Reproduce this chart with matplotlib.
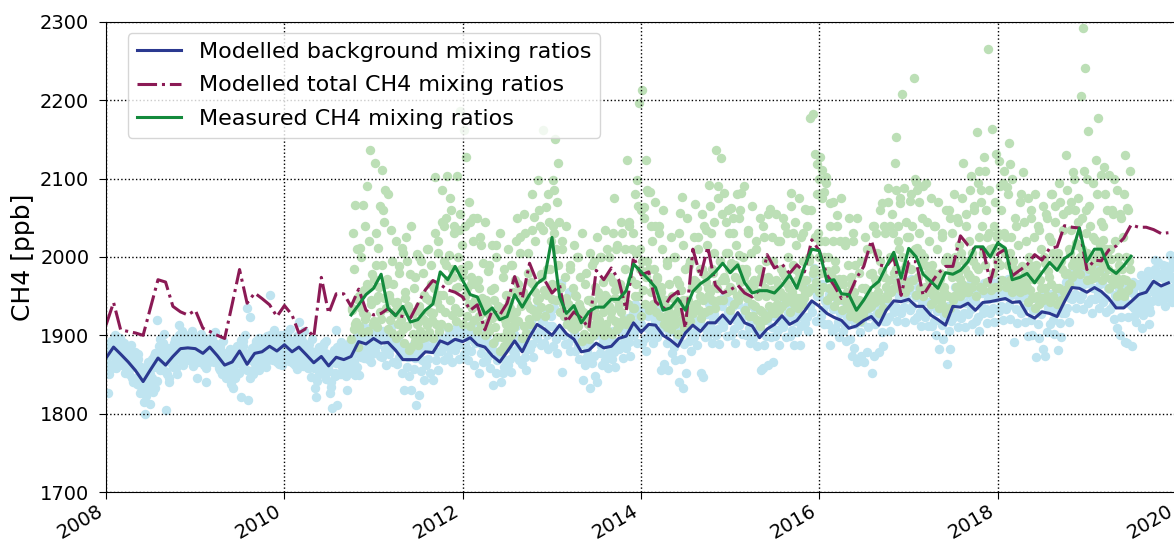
import matplotlib
matplotlib.use("Agg")
import matplotlib.pyplot as plt
import matplotlib.dates as mdates
import numpy as np
import pandas as pd

# monthly model output, Jan 2008 - Dec 2019 (ppb)
background = [
    1871, 1885, 1876, 1866, 1855, 1841, 1856, 1871, 1862, 1873, 1883, 1884,
    1883, 1877, 1885, 1874, 1862, 1866, 1880, 1863, 1877, 1879, 1886, 1880,
    1888, 1879, 1885, 1875, 1865, 1873, 1861, 1872, 1869, 1873, 1892, 1889,
    1896, 1890, 1891, 1881, 1869, 1869, 1869, 1879, 1878, 1893, 1889, 1895,
    1892, 1897, 1888, 1885, 1874, 1866, 1879, 1893, 1879, 1898, 1914, 1908,
    1900, 1913, 1902, 1895, 1879, 1881, 1890, 1884, 1886, 1896, 1899, 1916,
    1904, 1914, 1913, 1900, 1894, 1886, 1903, 1913, 1905, 1916, 1916, 1926,
    1915, 1929, 1916, 1912, 1897, 1908, 1914, 1925, 1914, 1919, 1931, 1944,
    1937, 1928, 1923, 1919, 1909, 1912, 1919, 1924, 1913, 1932, 1944, 1943,
    1946, 1937, 1937, 1926, 1920, 1913, 1937, 1936, 1941, 1932, 1942, 1943,
    1945, 1947, 1942, 1943, 1927, 1922, 1930, 1928, 1924, 1943, 1961, 1960,
    1955, 1961, 1956, 1947, 1935, 1935, 1943, 1952, 1955, 1969, 1963, 1967,
]
total = [
    1913, 1942, 1907, 1905, 1903, 1900, 1935, 1971, 1968, 1937, 1930, 1926,
    1932, 1909, 1905, 1900, 1896, 1940, 1984, 1941, 1954, 1947, 1939, 1924,
    1938, 1926, 1903, 1909, 1898, 1974, 1928, 1953, 1953, 1937, 1959, 1932,
    1926, 1928, 1934, 1926, 1924, 1922, 1940, 1958, 1970, 1965, 1958, 1955,
    1949, 1932, 1939, 1907, 1932, 1926, 1941, 1975, 1947, 1992, 1968, 1971,
    1954, 1964, 1917, 1930, 1922, 1909, 1983, 1971, 1986, 1971, 1932, 2000,
    1977, 1981, 1943, 1934, 1949, 1956, 1909, 2010, 1975, 2013, 1964, 1954,
    1958, 1964, 1954, 1949, 1958, 2003, 1986, 1991, 1979, 1990, 1981, 2022,
    2008, 1977, 1964, 1947, 1951, 1973, 1988, 2021, 1990, 1988, 2000, 1951,
    1994, 1994, 1951, 1966, 1979, 1988, 1988, 2027, 2015, 2009, 2011, 1968,
    2004, 2010, 1976, 1983, 1990, 2003, 1996, 2011, 2013, 2040, 2038, 2037,
    1984, 1996, 1995, 2009, 2014, 2024, 2041, 2038, 2038, 2035, 2030, 2031,
]
# monthly mean of the station record, Oct 2010 - Jul 2019
measured = [
    1926, 1939, 1952,
    1960, 1978, 1935, 1925, 1937, 1917, 1920, 1932, 1940, 1981, 1971, 1988,
    1970, 1952, 1949, 1927, 1935, 1920, 1924, 1952, 1936, 1952, 1966, 1973,
    2025, 1949, 1928, 1938, 1916, 1930, 1936, 1936, 1946, 1946, 1957, 1991,
    1981, 1971, 1961, 1932, 1935, 1947, 1932, 1956, 1966, 1972, 1981, 1992,
    1980, 1990, 1967, 1954, 1957, 1957, 1954, 1964, 1977, 1960, 1988, 2010,
    2008, 1969, 1971, 1953, 1952, 1932, 1945, 1961, 1969, 1988, 2006, 1973,
    2011, 2000, 1978, 1969, 1960, 1980, 1978, 1983, 1994, 2013, 2013, 2000,
    2018, 2011, 1971, 1974, 1979, 1967, 1980, 1993, 1983, 1998, 2005, 2037,
    1994, 2010, 2010, 1986, 1979, 1989, 2001,
]

# background samples, one every 5 days from 1 Jan of each year
bg_2008 = [1880, 1862, 1826, 1875, 1890, 1858, 1893, 1871, 1884, 1898, 1868, 1879,
           1885, 1862, 1874, 1890, 1857, 1869, 1873, 1851, 1882, 1860, 1840, 1868,
           1862, 1838, 1870, 1848, 1827, 1858, 1848, 1815, 1800, 1852, 1828, 1860,
           1812, 1862, 1845, 1873, 1833, 1866, 1920, 1878, 1856, 1884, 1862, 1890,
           1870, 1805, 1851, 1877, 1845, 1866, 1882, 1860, 1890, 1868, 1851, 1879,
           1913, 1875, 1890, 1862, 1897, 1880, 1892, 1870, 1900, 1876, 1887, 1861, 1895]
bg_2009 = [1890, 1846, 1878, 1896, 1869, 1884, 1885, 1862, 1890, 1840, 1871, 1880,
           1893, 1875, 1898, 1866, 1881, 1889, 1880, 1858, 1887, 1867, 1850, 1876,
           1870, 1845, 1878, 1855, 1864, 1838, 1874, 1833, 1861, 1880, 1850, 1869,
           1886, 1821, 1872, 1893, 1866, 1878, 1935, 1817, 1870, 1923, 1855, 1868,
           1885, 1864, 1893, 1872, 1856, 1880, 1887, 1868, 1895, 1874, 1860, 1883,
           1894, 1951, 1878, 1900, 1869, 1888, 1888, 1866, 1897, 1875, 1884, 1862, 1892]
bg_2010 = [1896, 1874, 1902, 1880, 1867, 1891, 1888, 1865, 1893, 1871, 1857, 1884,
           1917, 1876, 1893, 1861, 1884, 1870, 1883, 1858, 1889, 1866, 1847, 1878,
           1872, 1833, 1821, 1880, 1851, 1862, 1881, 1855, 1890, 1864, 1844, 1876,
           1869, 1826, 1834, 1807, 1876, 1852, 1907, 1811, 1866, 1880, 1850, 1875,
           1876, 1852, 1884, 1830, 1862, 1871, 1881, 1858, 1890, 1866, 1849, 1877,
           1900, 1849, 1910, 1883, 1896, 1871, 1897, 1875, 1905, 1880, 1892, 1866, 1902]
bg_2011 = [1905, 1880, 1913, 1888, 1899, 1874, 1898, 1872, 1906, 1883, 1862, 1893,
           1900, 1876, 1910, 1885, 1866, 1894, 1890, 1863, 1898, 1872, 1884, 1852,
           1878, 1830, 1885, 1860, 1872, 1848, 1879, 1830, 1888, 1857, 1871, 1811,
           1877, 1824, 1885, 1855, 1868, 1843, 1888, 1862, 1897, 1870, 1852, 1882,
           1886, 1843, 1894, 1868, 1879, 1856, 1902, 1880, 1912, 1886, 1869, 1896,
           1898, 1874, 1907, 1882, 1866, 1892, 1904, 1881, 1913, 1888, 1870, 1898, 1909]
bg_2012 = [1900, 1876, 1910, 1885, 1868, 1895, 1905, 1880, 1915, 1862, 1890, 1898,
           1896, 1852, 1905, 1878, 1888, 1866, 1893, 1867, 1901, 1874, 1858, 1887,
           1882, 1837, 1891, 1852, 1868, 1876, 1874, 1840, 1882, 1852, 1860, 1869,
           1887, 1862, 1895, 1870, 1853, 1880, 1902, 1876, 1912, 1885, 1868, 1897,
           1888, 1864, 1897, 1872, 1856, 1882, 1907, 1882, 1918, 1889, 1872, 1900,
           1925, 1897, 1938, 1905, 1888, 1918, 1918, 1890, 1932, 1900, 1883, 1912, 1925]
bg_2013 = [1912, 1886, 1935, 1895, 1877, 1906, 1945, 1967, 1853, 1900, 1925, 1889,
           1914, 1890, 1955, 1880, 1897, 1908, 1905, 1880, 1915, 1888, 1870, 1898,
           1889, 1843, 1897, 1862, 1871, 1880, 1890, 1833, 1898, 1865, 1873, 1848,
           1900, 1840, 1909, 1878, 1886, 1862, 1893, 1868, 1902, 1876, 1858, 1887,
           1896, 1870, 1905, 1879, 1860, 1889, 1907, 1882, 1917, 1889, 1871, 1899,
           1910, 1884, 1922, 1892, 1874, 1903, 1928, 1900, 1940, 1908, 1890, 1920, 1933]
bg_2014 = [1915, 1890, 1926, 1897, 1880, 1909, 1925, 1900, 1938, 1907, 1890, 1918,
           1924, 1898, 1935, 1906, 1856, 1917, 1911, 1864, 1922, 1890, 1856, 1904,
           1905, 1878, 1916, 1885, 1868, 1898, 1897, 1841, 1908, 1870, 1833, 1889,
           1914, 1852, 1924, 1893, 1903, 1880, 1924, 1898, 1936, 1906, 1888, 1918,
           1916, 1852, 1927, 1847, 1898, 1908, 1927, 1901, 1940, 1909, 1890, 1920,
           1927, 1900, 1939, 1908, 1889, 1920, 1937, 1910, 1950, 1918, 1899, 1930, 1944]
bg_2015 = [1926, 1900, 1938, 1908, 1890, 1920, 1940, 1913, 1952, 1921, 1902, 1933,
           1927, 1901, 1938, 1909, 1890, 1920, 1923, 1897, 1934, 1905, 1886, 1916,
           1908, 1856, 1918, 1858, 1888, 1899, 1919, 1862, 1929, 1898, 1910, 1866,
           1925, 1899, 1936, 1907, 1888, 1918, 1936, 1910, 1948, 1917, 1898, 1929,
           1925, 1899, 1936, 1907, 1888, 1918, 1930, 1904, 1942, 1888, 1912, 1923,
           1945, 1916, 1960, 1924, 1905, 1938, 1958, 1930, 1975, 1986, 1918, 1950, 1965]
bg_2016 = [1950, 1925, 1965, 1932, 1915, 1944, 1940, 1915, 1953, 1888, 1905, 1934,
           1935, 1909, 1948, 1917, 1898, 1928, 1931, 1905, 1944, 1912, 1893, 1924,
           1921, 1895, 1933, 1873, 1884, 1914, 1924, 1866, 1936, 1904, 1873, 1917,
           1931, 1866, 1943, 1879, 1910, 1925, 1936, 1852, 1948, 1873, 1915, 1929,
           1925, 1879, 1937, 1904, 1887, 1918, 1944, 1918, 1957, 1924, 1906, 1937,
           1956, 1930, 1970, 1936, 1918, 1949, 1955, 1929, 1968, 1936, 1917, 1948, 1962]
bg_2017 = [1958, 1932, 1972, 1938, 1920, 1951, 1949, 1923, 1962, 1930, 1912, 1942,
           1949, 1923, 1962, 1930, 1912, 1942, 1938, 1912, 1951, 1918, 1900, 1931,
           1932, 1883, 1945, 1913, 1895, 1925, 1925, 1864, 1938, 1905, 1883, 1918,
           1949, 1923, 1962, 1929, 1911, 1942, 1948, 1922, 1961, 1928, 1910, 1941,
           1953, 1927, 1966, 1933, 1915, 1946, 1944, 1918, 1957, 1924, 1906, 1937,
           1954, 1928, 1967, 1934, 1916, 1947, 1955, 1929, 1968, 1935, 1917, 1948, 1962]
bg_2018 = [1957, 1931, 1970, 1937, 1919, 1950, 1959, 1933, 1972, 1939, 1921, 1952,
           1954, 1892, 1967, 1934, 1916, 1947, 1955, 1929, 1968, 1935, 1917, 1948,
           1939, 1899, 1952, 1919, 1901, 1932, 1934, 1872, 1947, 1914, 1896, 1927,
           1942, 1883, 1955, 1873, 1904, 1935, 1940, 1914, 1953, 1920, 1902, 1933,
           1936, 1881, 1949, 1916, 1898, 1929, 1955, 1929, 1968, 1935, 1917, 1948,
           1973, 1947, 1986, 1953, 1935, 1966, 1972, 1946, 1985, 1952, 1934, 1965, 1979]
bg_2019 = [1967, 1941, 1980, 1947, 1929, 1960, 1973, 1947, 1986, 1953, 1935, 1966,
           1968, 1942, 1981, 1948, 1930, 1961, 1959, 1933, 1972, 1939, 1921, 1952,
           1947, 1909, 1960, 1900, 1923, 1940, 1947, 1892, 1960, 1890, 1923, 1940,
           1955, 1886, 1968, 1935, 1917, 1948, 1964, 1938, 1977, 1909, 1926, 1957,
           1968, 1941, 1982, 1915, 1930, 1960, 1982, 1955, 1996, 1962, 1944, 1975,
           1976, 1950, 1990, 1956, 1938, 1969, 1980, 1953, 2002, 1960, 1942, 1972, 1990]

# in-between background samples (5-day step, shifted by 2 days)
bg_b_2008 = [1868, 1888, 1850, 1878, 1893, 1864, 1876, 1900, 1858, 1889, 1874, 1896,
             1868, 1892, 1880, 1852, 1886, 1873, 1858, 1876, 1888, 1845, 1866, 1879,
             1845, 1866, 1876, 1836, 1860, 1852, 1835, 1856, 1822, 1845, 1866, 1838,
             1850, 1870, 1828, 1860, 1878, 1842, 1866, 1886, 1895, 1860, 1876, 1902,
             1855, 1875, 1884, 1840, 1866, 1880, 1866, 1886, 1895, 1858, 1876, 1900,
             1876, 1896, 1905, 1868, 1886, 1870, 1878, 1898, 1868, 1890, 1905, 1880, 1872]
bg_b_2009 = [1876, 1896, 1866, 1888, 1902, 1872, 1870, 1890, 1858, 1882, 1895, 1866,
             1878, 1898, 1868, 1890, 1904, 1874, 1866, 1886, 1856, 1880, 1893, 1862,
             1854, 1874, 1846, 1866, 1882, 1850, 1858, 1878, 1846, 1870, 1886, 1852,
             1874, 1894, 1862, 1886, 1900, 1868, 1856, 1876, 1845, 1868, 1884, 1850,
             1870, 1890, 1860, 1882, 1897, 1866, 1872, 1892, 1862, 1884, 1899, 1868,
             1880, 1900, 1870, 1892, 1907, 1876, 1874, 1894, 1864, 1886, 1900, 1870, 1882]
bg_b_2010 = [1882, 1902, 1872, 1894, 1908, 1878, 1872, 1892, 1862, 1884, 1899, 1868,
             1878, 1898, 1868, 1890, 1905, 1874, 1868, 1888, 1858, 1880, 1895, 1864,
             1858, 1878, 1842, 1870, 1885, 1852, 1866, 1886, 1850, 1878, 1893, 1860,
             1854, 1874, 1840, 1866, 1881, 1848, 1865, 1885, 1850, 1877, 1892, 1860,
             1862, 1882, 1848, 1874, 1889, 1856, 1866, 1886, 1852, 1878, 1893, 1860,
             1885, 1905, 1872, 1897, 1912, 1880, 1882, 1902, 1870, 1894, 1909, 1876, 1890]
bg_b_2019 = [1938, 1958, 1925, 1950, 1965, 1932, 1946, 1966, 1932, 1958, 1974, 1940,
             1950, 1970, 1935, 1962, 1978, 1944, 1962, 1985, 1950, 1975, 1993, 1958,
             1958, 1980, 1945, 1970, 1988, 1952, 1960, 1984, 1948, 1974, 1995, 1955, 1968]

# station samples, one every 4 days (2010 starts on 1 Oct)
obs_2010 = [1895, 1932, 2030, 1908, 2066, 1917, 1946, 1885,
            1912, 2011, 1935, 1904, 2066, 1958, 1921,
            1926, 2090, 1905, 1962, 2136, 1940, 1978, 1915]
obs_2011 = [1918, 2120, 1945, 1990, 1910, 2011, 1962, 1930,
            1921, 2111, 2060, 1948, 2085, 1935, 1972,
            1908, 1952, 1920, 2034, 1903, 1966, 1927, 1941,
            1897, 1943, 1915, 1988, 1902, 1930, 2012, 1908,
            1890, 1955, 2025, 1912, 1938, 1881, 1978,
            1885, 1930, 1902, 1960, 1893, 1918, 2004, 1895,
            1888, 1937, 1906, 1995, 1897, 1921, 1952,
            1898, 1948, 1913, 2010, 1904, 1930, 1965, 1920,
            1896, 1960, 2102, 1915, 1942, 2020, 1906, 1952,
            1915, 2085, 1952, 2040, 1930, 1990, 2104,
            1910, 2003, 1945, 2060, 1926, 1975, 2030, 1935,
            1918, 2104, 1962, 2035, 1930, 2187, 1985, 2015]
obs_2012 = [1915, 2162, 1950, 2128, 1925, 1990, 1940, 2045,
            1912, 1975, 1935, 2050, 1920, 1966, 1942,
            1905, 1970, 1925, 2025, 1913, 1948, 1992, 1930,
            1900, 1945, 1916, 1982, 1905, 1930, 1958, 1922,
            1890, 1960, 1910, 2015, 1898, 1938, 1925,
            1880, 1935, 1898, 1975, 1886, 1920, 1952, 1905,
            1893, 1942, 1910, 1990, 1900, 1925, 1955,
            1910, 1970, 1930, 2050, 1918, 1955, 2005, 1938,
            1896, 1955, 1912, 2030, 1903, 1940, 1980, 1921,
            1915, 1968, 2081, 1932, 2051, 1955, 1925,
            1930, 2098, 1948, 2040, 1936, 1975, 2162, 1958,
            1925, 2064, 1952, 2081, 1935, 1985, 2020, 1946]
obs_2013 = [1965, 2098, 2030, 2150, 1945, 2070, 1990, 2045,
            1930, 1962, 2020, 1940, 1925, 1975, 1948,
            1915, 1940, 1922, 1985, 1910, 1932, 1960, 1918,
            1908, 1952, 1920, 2000, 1912, 1940, 1975, 1926,
            1893, 1930, 1902, 1965, 1898, 1918, 1945,
            1895, 1945, 1910, 1990, 1900, 1932, 1962, 1916,
            1905, 1955, 1920, 2000, 1910, 1940, 1968,
            1900, 1952, 1915, 2010, 1905, 1938, 1975, 1922,
            1902, 1968, 2075, 1918, 1948, 2010, 1908, 1935,
            1912, 1965, 1930, 2030, 1920, 1950, 1985,
            1915, 2124, 1940, 2040, 1922, 1970, 2010, 1935,
            1935, 2080, 1965, 2098, 1950, 2197, 2010, 2060]
obs_2014 = [1925, 2213, 1958, 2064, 1940, 2124, 1995, 2083,
            1932, 2083, 1955, 2020, 1940, 1985, 2040,
            1930, 1975, 1945, 2040, 1925, 1962, 2010, 1940,
            1915, 1945, 1925, 1990, 1910, 1935, 1965, 1920,
            1908, 1950, 1922, 2000, 1915, 1940, 1970,
            1902, 1965, 2056, 1920, 2077, 1945, 1910, 1985,
            1915, 1945, 1925, 1990, 1918, 1935, 1962,
            1928, 1970, 2068, 1940, 1960, 2010, 1932, 1985,
            1922, 1985, 1945, 2040, 1930, 1968, 2015, 1950,
            1932, 2092, 1955, 2030, 1945, 1980, 2005,
            1935, 2137, 1960, 2090, 1945, 1995, 2126, 1970,
            1945, 2082, 1970, 2045, 1955, 2005, 2030, 1962]
obs_2015 = [1932, 2062, 1958, 2030, 1940, 1990, 2015, 1950,
            1945, 2050, 1968, 2082, 1955, 2000, 1975,
            1932, 1985, 1948, 2030, 1925, 1965, 2005, 1940,
            1925, 1970, 1938, 2010, 1920, 1955, 1985, 1932,
            1912, 1975, 1930, 2040, 1920, 1960, 1995,
            1922, 1975, 1938, 2061, 1928, 1958, 1995, 1932,
            1928, 1970, 1940, 2020, 1932, 1955, 1985,
            1938, 1980, 1950, 2040, 1942, 1965, 2000, 1948,
            1930, 2082, 1955, 2030, 1940, 1985, 2015, 1948,
            1935, 1980, 1948, 2025, 1940, 1962, 1995,
            1948, 2061, 1970, 2040, 1955, 1995, 2177, 1960,
            1960, 2183, 1985, 2132, 1968, 2119, 2030, 2100]
obs_2016 = [1955, 2128, 1980, 2111, 1962, 2083, 2020, 2102,
            1945, 2000, 1960, 2069, 1950, 1975, 2020,
            1938, 1995, 1955, 2054, 1945, 1972, 2020, 1950,
            1932, 1972, 1945, 2015, 1935, 1955, 1990, 1940,
            1925, 1975, 1938, 2030, 1930, 1955, 1990,
            1922, 1945, 1930, 1980, 1918, 1935, 1960, 1926,
            1932, 1960, 1940, 2010, 1935, 1948, 1978,
            1938, 1980, 1950, 2040, 1942, 1965, 2005, 1948,
            1928, 1995, 1945, 2069, 1935, 1975, 2030, 1950,
            1948, 2088, 1970, 2040, 1955, 2000, 2030,
            1960, 2120, 1985, 2153, 1968, 2040, 2010, 2069,
            1958, 2208, 1972, 2088, 1955, 1990, 2025, 1965]
obs_2017 = [1962, 2072, 1985, 2040, 1970, 2229, 2010, 2096,
            1952, 2085, 1975, 2030, 1960, 2005, 2050,
            1950, 2000, 1962, 2094, 1955, 1980, 2020, 1958,
            1940, 1990, 1952, 2040, 1945, 1970, 2010, 1950,
            1935, 1980, 1945, 2025, 1938, 1962, 1995,
            1928, 2000, 1950, 2060, 1935, 1985, 2030, 1945,
            1950, 2000, 1962, 2050, 1955, 1980, 2015,
            1950, 2005, 1965, 2120, 1955, 1985, 2040, 1962,
            1955, 2020, 1975, 2103, 1962, 1995, 2060, 1970,
            1950, 2159, 1985, 2110, 1962, 2070, 2040,
            1958, 2128, 1990, 2060, 1968, 2265, 2030, 2010,
            1958, 2164, 1980, 2040, 1962, 2132, 2025, 1990]
obs_2018 = [1962, 2122, 1990, 2060, 1970, 2095, 2030, 2005,
            1962, 2089, 1990, 2146, 1970, 2119, 2025,
            1955, 1995, 1965, 2050, 1958, 1975, 2015, 1962,
            1955, 2081, 1968, 2109, 1958, 1980, 2020, 1962,
            1942, 2000, 1958, 2060, 1948, 1982, 2025,
            1935, 1990, 1950, 2040, 1940, 1970, 2010, 1948,
            1945, 2000, 1960, 2055, 1950, 1982, 2025,
            1942, 2020, 1965, 2080, 1950, 1995, 2045, 1960,
            1940, 2005, 1960, 2070, 1945, 1985, 2035, 1955,
            1958, 2130, 1980, 2060, 1965, 2005, 2035,
            1975, 2108, 1995, 2060, 1980, 2015, 2045, 1990,
            1978, 2205, 2010, 2292, 1990, 2241, 2060, 2100]
obs_2019 = [1970, 2161, 1985, 2040, 1972, 2000, 2025, 1978,
            1975, 2124, 1995, 2177, 1982, 2015, 2045,
            1970, 2040, 1990, 2115, 1975, 2010, 2060, 1985,
            1960, 2010, 1972, 2060, 1965, 2099, 2020, 1975,
            1950, 2000, 1965, 2055, 1955, 1985, 2025,
            1950, 2130, 1970, 2062, 1958, 1995, 2110, 1965]

# in-between station samples (8-day step, shifted by 2 days)
obs_b_2010 = [1935, 1985, 1915, 2010, 1950, 2000, 1928, 2040, 1965, 2020, 1945]
obs_b_2011 = [1972, 2030, 1950, 2065, 1990, 2045, 1965, 2080, 1945, 1995, 1930, 2020,
              1938, 1980, 1920, 2005, 1948, 1995, 1930, 2040, 1928, 1975, 1915, 2000,
              1930, 1980, 1918, 2010, 1945, 1990, 1928, 2030, 1952, 2005, 1935, 2045,
              1995, 2050, 1970, 2075, 1985, 2040, 1960, 2000, 2055, 1975]
obs_b_2012 = [1982, 2040, 1960, 2070, 1965, 2020, 1945, 2050, 1960, 2015, 1942, 2045,
              1938, 1990, 1925, 2015, 1945, 2000, 1930, 2030, 1930, 1985, 1915, 2010,
              1935, 1990, 1920, 2020, 1965, 2025, 1945, 2055, 1948, 2005, 1935, 2035,
              1965, 2020, 1945, 2060, 1978, 2035, 1955, 1985, 2045, 1962]
obs_b_2013 = [2040, 2085, 2010, 2120, 1960, 2010, 1942, 2040, 1940, 1990, 1925, 2015,
              1950, 2000, 1935, 2030, 1928, 1980, 1915, 2005, 1942, 1995, 1925, 2025,
              1948, 2000, 1930, 2035, 1948, 2000, 1930, 2030, 1958, 2015, 1940, 2045,
              1958, 2010, 1940, 2045, 1970, 2030, 1950, 2005, 2065, 1985]
obs_b_2014 = [1995, 2050, 1975, 2085, 1985, 2040, 1965, 2070, 1972, 2030, 1955, 2060,
              1945, 1995, 1930, 2025, 1948, 2000, 1930, 2030, 1958, 2015, 1942, 2050,
              1945, 1995, 1930, 2025, 1968, 2025, 1950, 2055, 1978, 2035, 1960, 2065,
              1985, 2045, 1965, 2075, 1995, 2055, 1975, 2005, 2060, 1985]
obs_b_2015 = [1992, 2050, 1975, 2080, 2002, 2060, 1985, 2090, 1980, 2035, 1960, 2065,
              1965, 2020, 1950, 2050, 1970, 2025, 1950, 2055, 1970, 2025, 1950, 2055,
              1965, 2020, 1950, 2050, 1975, 2030, 1960, 2065, 1990, 2045, 1970, 2075,
              1972, 2030, 1955, 2060, 2000, 2060, 1980, 2025, 2080, 2000]
obs_b_2016 = [2020, 2075, 2000, 2095, 1982, 2040, 1962, 2070, 1985, 2040, 1965, 2075,
              1965, 2020, 1950, 2050, 1965, 2020, 1945, 2050, 1945, 1995, 1930, 2025,
              1958, 2010, 1940, 2040, 1972, 2030, 1955, 2060, 1982, 2040, 1962, 2070,
              2000, 2055, 1980, 2085, 2020, 2075, 2000, 1985, 2045, 1968]
obs_b_2017 = [2025, 2080, 2005, 2100, 2012, 2070, 1995, 2090, 1990, 2045, 1972, 2075,
              1980, 2040, 1962, 2070, 1972, 2030, 1955, 2060, 1992, 2050, 1975, 2080,
              1990, 2045, 1972, 2075, 1995, 2055, 1978, 2085, 2005, 2065, 1988, 2095,
              2025, 2085, 2005, 2110, 2025, 2085, 2005, 2012, 2070, 1995]
obs_b_2018 = [2030, 2090, 2010, 2110, 2025, 2080, 2005, 2100, 1985, 2040, 1965, 2070,
              1988, 2045, 1968, 2075, 1990, 2050, 1972, 2080, 1980, 2035, 1960, 2065,
              1992, 2050, 1975, 2080, 2005, 2065, 1988, 2095, 1995, 2055, 1978, 2085,
              2010, 2070, 1990, 2100, 2018, 2075, 2000, 2050, 2110, 2030]
obs_b_2019 = [2005, 2065, 1988, 2095, 2022, 2080, 2005, 2105, 2022, 2080, 2005, 2105,
              1998, 2055, 1980, 2085, 1990, 2050, 1972, 2080, 2000, 2060, 1985]

bg_series = [("2008-01-01", "5D", bg_2008), ("2009-01-01", "5D", bg_2009),
             ("2010-01-01", "5D", bg_2010), ("2011-01-01", "5D", bg_2011),
             ("2012-01-01", "5D", bg_2012), ("2013-01-01", "5D", bg_2013),
             ("2014-01-01", "5D", bg_2014), ("2015-01-01", "5D", bg_2015),
             ("2016-01-01", "5D", bg_2016), ("2017-01-01", "5D", bg_2017),
             ("2018-01-01", "5D", bg_2018), ("2019-01-01", "5D", bg_2019),
             ("2008-01-03", "5D", bg_b_2008), ("2009-01-03", "5D", bg_b_2009),
             ("2010-01-03", "5D", bg_b_2010), ("2019-07-03", "5D", bg_b_2019)]
obs_series = [("2010-10-01", "4D", obs_2010), ("2011-01-01", "4D", obs_2011),
              ("2012-01-01", "4D", obs_2012), ("2013-01-01", "4D", obs_2013),
              ("2014-01-01", "4D", obs_2014), ("2015-01-01", "4D", obs_2015),
              ("2016-01-01", "4D", obs_2016), ("2017-01-01", "4D", obs_2017),
              ("2018-01-01", "4D", obs_2018), ("2019-01-01", "4D", obs_2019),
              ("2010-10-03", "8D", obs_b_2010), ("2011-01-03", "8D", obs_b_2011),
              ("2012-01-03", "8D", obs_b_2012), ("2013-01-03", "8D", obs_b_2013),
              ("2014-01-03", "8D", obs_b_2014), ("2015-01-03", "8D", obs_b_2015),
              ("2016-01-03", "8D", obs_b_2016), ("2017-01-03", "8D", obs_b_2017),
              ("2018-01-03", "8D", obs_b_2018), ("2019-01-03", "8D", obs_b_2019)]


def sampled(start, step, values):
    return pd.Series(values, index=pd.date_range(start, periods=len(values), freq=step))


bg_obs = pd.concat([sampled(*s) for s in bg_series])
station_obs = pd.concat([sampled(*s) for s in obs_series])

months = pd.date_range("2008-01-01", periods=len(background), freq="MS")
meas_months = pd.date_range("2010-10-01", periods=len(measured), freq="MS")

fig = plt.figure(figsize=(11.74, 5.43), dpi=100)
ax = fig.add_axes([106 / 1174, 51 / 543, 1070 / 1174, 470 / 543])

# background samples underneath, station samples over them
ax.scatter(bg_obs.index, bg_obs.values, s=46, color="#bfe4f0", linewidths=0)
ax.scatter(station_obs.index, station_obs.values, s=46, color="#bcdfb6", linewidths=0)

ax.plot(months, background, color="#2b3990", lw=2.2, label="Modelled background mixing ratios")
ax.plot(months, total, color="#8b1a55", lw=2.2, ls="-.", label="Modelled total CH4 mixing ratios")
ax.plot(meas_months, measured, color="#138a3c", lw=2.2, label="Measured CH4 mixing ratios")

ax.set_xlim(pd.Timestamp("2008-01-01"), pd.Timestamp("2020-01-01"))
ax.set_ylim(1700, 2300)
ax.xaxis.set_major_locator(mdates.YearLocator(2))
ax.xaxis.set_major_formatter(mdates.DateFormatter("%Y"))
ax.set_yticks(np.arange(1700, 2301, 100))
ax.grid(True, linestyle=":", color="black", linewidth=1)
ax.tick_params(labelsize=14, length=5)
ax.tick_params(axis="y", pad=7)
ax.tick_params(axis="x", pad=2)
for lbl in ax.get_xticklabels():
    lbl.set_rotation(30)
    lbl.set_ha("right")
ax.set_ylabel("CH4 [ppb]", fontsize=18)

ax.legend(loc="upper left", bbox_to_anchor=(0.01, 1.0), fontsize=16, labelspacing=0.6)

fig.savefig("out.png", dpi=100)
